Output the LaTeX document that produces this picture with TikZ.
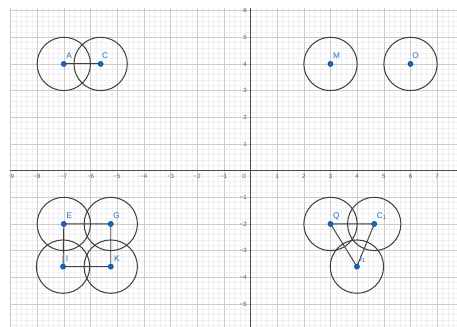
\documentclass[tikz,border=0pt]{standalone}
\usepackage{fontspec}
\setmainfont{Liberation Sans}
\definecolor{ptblue}{HTML}{1565C0}
\definecolor{lblblue}{HTML}{1E70CC}
\begin{document}
\begin{tikzpicture}[x=1cm,y=1cm,
  minorgrid/.style={draw=black!6, line width=0.3pt},
  majorgrid/.style={draw=black!20, line width=0.55pt},
  axisline/.style={draw=black!70, line width=0.7pt},
  ticklbl/.style={font=\fontsize{6.5}{7}\selectfont, text=black!65, inner sep=0pt},
  ring/.style={draw=black!75, line width=1.1pt},
  seg/.style={draw=black!75, line width=1pt},
  pt/.style={circle, fill=ptblue, draw=ptblue!70!black, line width=0.4pt, inner sep=0pt, minimum size=0.2cm},
  plbl/.style={font=\fontsize{8.8}{9}\selectfont, text=lblblue, inner sep=0pt, anchor=base west},
]
\fill[white] (-9.393,-5.864) rectangle (7.743,6.397);
\useasboundingbox (-9.393,-5.864) rectangle (7.743,6.397);
\begin{scope}
  \clip (-9.02,-5.864) rectangle (7.743,6.06);
  \draw[minorgrid, step=0.2] (-9.2,-6) grid (7.8,6.2);
  \draw[majorgrid, step=1] (-10,-6) grid (8,7);
  \draw[axisline] (-9.5,0) -- (8,0);
  \draw[axisline] (0,-6) -- (0,6.5);
  \foreach \x in {1,...,9} \node[ticklbl, anchor=north] at (-\x,-0.13) {−\x};
  \foreach \x in {1,...,7} \node[ticklbl, anchor=north] at (\x,-0.13) {\x};
  \node[ticklbl, anchor=north east] at (-0.17,-0.13) {0};
  \foreach \y in {1,...,6} \node[ticklbl, anchor=east] at (-0.13,\y) {\y};
  \foreach \y in {1,...,5} \node[ticklbl, anchor=east] at (-0.13,-\y) {−\y};
\end{scope}
% point positions
\coordinate (A) at (-7,4);
\coordinate (C) at (-5.62,4);
\coordinate (M) at (3,4);
\coordinate (O) at (6,4);
\coordinate (E) at (-7,-2);
\coordinate (G) at (-5.24,-2);
\coordinate (I) at (-7.03,-3.6);
\coordinate (K) at (-5.24,-3.6);
\coordinate (Q) at (3,-2);
\coordinate (C1) at (4.64,-2);
\coordinate (I1) at (3.99,-3.6);
% circles
\foreach \p in {A,C,M,O,E,G,I,K,Q,C1,I1} \draw[ring] (\p) circle (1);
% segments
\draw[seg] (A) -- (C);
\draw[seg] (E) -- (G) -- (K) -- (I) -- cycle;
\draw[seg] (Q) -- (C1) -- (I1) -- cycle;
% points
\foreach \p in {A,C,M,O,E,G,I,K,Q,C1,I1} \node[pt] (p\p) at (\p) {};
% labels
\node[plbl] (lA) at ([shift={(0.09,0.2)}]A) {A};
\node[plbl] (lC) at ([shift={(0.05,0.2)}]C) {C};
\node[plbl] (lM) at ([shift={(0.09,0.2)}]M) {M};
\node[plbl] (lO) at ([shift={(0.06,0.2)}]O) {O};
\node[plbl] (lE) at ([shift={(0.1,0.2)}]E) {E};
\node[plbl] (lG) at ([shift={(0.09,0.2)}]G) {G};
\node[plbl] (lI) at ([shift={(0.1,0.2)}]I) {I};
\node[plbl] (lK) at ([shift={(0.12,0.2)}]K) {K};
\node[plbl] (lQ) at ([shift={(0.09,0.2)}]Q) {Q};
\node[plbl] (lC1) at ([shift={(0.09,0.2)}]C1) {C\textsubscript{1}};
\node[plbl] (lI1) at ([shift={(0.1,0.2)}]I1) {I\textsubscript{1}};
\end{tikzpicture}
\end{document}
